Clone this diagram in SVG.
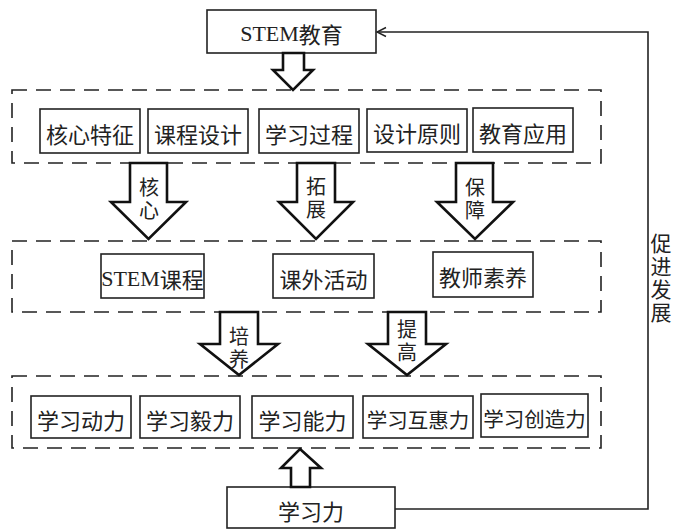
<svg xmlns="http://www.w3.org/2000/svg" width="682" height="530" viewBox="0 0 682 530">
<defs>
<style>
.box{fill:#fff;stroke:#222;stroke-width:1.6}
.dash{fill:none;stroke:#222;stroke-width:1.6;stroke-dasharray:15 9}
.arr{fill:#fff;stroke:#111;stroke-width:2.6;stroke-linejoin:miter}
.t{font-family:"Noto Sans CJK SC","Noto Sans CJK JP",sans-serif;font-size:22px;fill:#222;text-anchor:middle;dominant-baseline:central}
.t5{font-size:20.5px}
.v{font-family:"Noto Sans CJK SC","Noto Sans CJK JP",sans-serif;fill:#222;text-anchor:middle;writing-mode:vertical-rl}
.lbl{font-size:20px;letter-spacing:3px}
.side{font-size:21px;letter-spacing:2px}
.lat{font-family:"Liberation Serif","Noto Sans CJK SC",serif}
.line{fill:none;stroke:#222;stroke-width:1.6}
</style>
<marker id="open" markerWidth="12" markerHeight="12" refX="10" refY="6" orient="auto" markerUnits="userSpaceOnUse">
<polyline points="1,1.5 10,6 1,10.5" fill="none" stroke="#222" stroke-width="1.4"/>
</marker>
</defs>

<g id="containers">
<rect class="dash" x="12" y="90" width="589" height="73"/>
<rect class="dash" x="12" y="241" width="589" height="71"/>
<rect class="dash" x="12" y="376" width="589" height="72"/>
</g>

<g id="stem-edu"><rect class="box" x="207" y="10" width="169" height="43"/><text class="t" x="291.5" y="33"><tspan class="lat">STEM</tspan>教育</text></g>

<g id="n-hxtz"><rect class="box" x="40" y="109" width="100" height="44"/><text class="t" x="90" y="133">核心特征</text></g>
<g id="n-kcsj"><rect class="box" x="148" y="109" width="100" height="44"/><text class="t" x="198" y="133">课程设计</text></g>
<g id="n-xxgc"><rect class="box" x="259" y="109" width="100" height="44"/><text class="t" x="309" y="133">学习过程</text></g>
<g id="n-sjyz"><rect class="box" x="367" y="109" width="100" height="43"/><text class="t" x="417" y="132">设计原则</text></g>
<g id="n-jyyy"><rect class="box" x="473" y="108" width="100" height="44"/><text class="t" x="523" y="132">教育应用</text></g>

<g id="n-stemkc"><rect class="box" x="101" y="254" width="103" height="44"/><text class="t" x="152.5" y="278"><tspan class="lat">STEM</tspan>课程</text></g>
<g id="n-kwhd"><rect class="box" x="273" y="254" width="101" height="44"/><text class="t" x="323.5" y="278">课外活动</text></g>
<g id="n-jssy"><rect class="box" x="433" y="252" width="100" height="45"/><text class="t" x="483" y="276">教师素养</text></g>

<g id="n-xxdl"><rect class="box" x="31" y="396" width="100" height="42"/><text class="t" x="81" y="419">学习动力</text></g>
<g id="n-xxyl"><rect class="box" x="140" y="396" width="100" height="42"/><text class="t" x="190" y="419">学习毅力</text></g>
<g id="n-xxnl"><rect class="box" x="252" y="396" width="101" height="42"/><text class="t" x="302.5" y="419">学习能力</text></g>
<g id="n-xxhhl"><rect class="box" x="363" y="396" width="110" height="42"/><text class="t t5" x="418" y="419">学习互惠力</text></g>
<g id="n-xxczl"><rect class="box" x="481" y="394" width="107" height="43"/><text class="t t5" x="534.5" y="418">学习创造力</text></g>

<g id="n-xxl"><rect class="box" x="227" y="487" width="168" height="41"/><text class="t" x="311" y="510">学习力</text></g>

<g id="connectors">
<polygon class="arr" points="283,53 304,53 304,70 313,70 293,90 273,70 283,70"/>
<polygon class="arr" points="130,163 167,163 167,202 186,202 148.5,239 111,202 130,202"/>
<polygon class="arr" points="297,163 335,163 335,202 353,202 316,239 279,202 297,202"/>
<polygon class="arr" points="456,163 493,163 493,202 513,202 475,239 437,202 456,202"/>
<polygon class="arr" points="220,312 258,312 258,344 278,344 239,375 200,344 220,344"/>
<polygon class="arr" points="388,312 426,312 426,344 446,344 407,375 368,344 388,344"/>
<polygon class="arr" points="300,449 321,468 310,468 310,487 291,487 291,468 281,468"/>
<polyline class="line" points="395,509 648,509 648,32 377,32" marker-end="url(#open)"/>
<text class="v lbl" x="149" y="200">核心</text>
<text class="v lbl" x="316" y="199">拓展</text>
<text class="v lbl" x="475" y="200">保障</text>
<text class="v lbl" x="239" y="349">培养</text>
<text class="v lbl" x="407" y="342">提高</text>
<text class="v side" x="661" y="279">促进发展</text>
</g>
</svg>
